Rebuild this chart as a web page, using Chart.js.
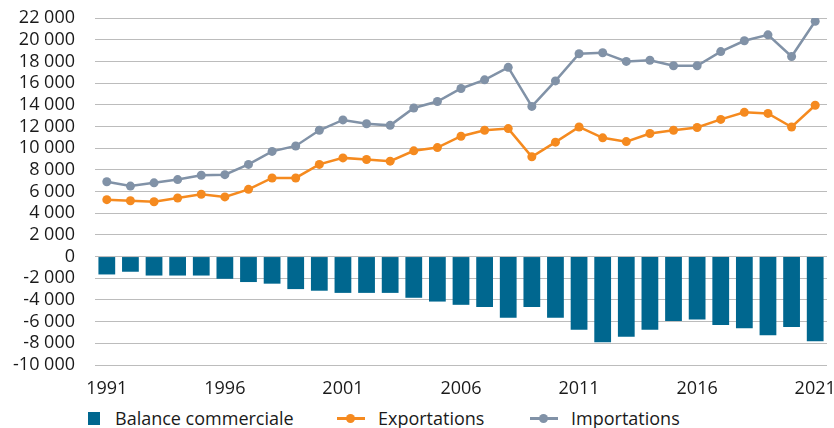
<!DOCTYPE html>
<html>
<head>
<meta charset="utf-8">
<script src="https://cdn.jsdelivr.net/npm/chart.js@4/dist/chart.umd.min.js"></script>
<style>
  html, body { margin: 0; padding: 0; background: #fff; }
  #wrap { position: relative; width: 834px; height: 428px; font-family: "Open Sans", sans-serif; }
  #box { position: absolute; left: 0; top: 0; width: 834px; height: 400px; }
  .leg { position: absolute; top: 406px; height: 24px; display: flex; align-items: center; font-size: 18px; color: #1a1a1a; white-space: nowrap; }
  .sq { width: 12px; height: 13px; margin-right: 15px; }
  .ln { position: relative; width: 28px; height: 3px; margin-right: 13px; }
  .ln i { position: absolute; left: 9px; top: -3px; width: 9px; height: 9px; border-radius: 50%; }
</style>
</head>
<body>
<div id="wrap">
  <div id="box"><canvas id="chart"></canvas></div>
  <div class="leg" style="left:88px"><span class="sq" style="background:#00678f"></span>Balance commerciale</div>
  <div class="leg" style="left:337px"><span class="ln" style="background:#f58a1f"><i style="background:#f58a1f"></i></span>Exportations</div>
  <div class="leg" style="left:530px"><span class="ln" style="background:#8192a7"><i style="background:#8192a7"></i></span>Importations</div>
</div>
<script>
// Commerce extérieur, 1991-2021

const years = [];
for (let y = 1991; y <= 2021; y++) years.push(String(y));

const balance = [
  -1650, -1400, -1750, -1750, -1750, -2050, -2350, -2500, -3000, -3150,
  -3350, -3350, -3350, -3800, -4150, -4450, -4650, -5650, -4650, -5650,
  -6750, -7900, -7400, -6750, -5950, -5800, -6300, -6600, -7250, -6500,
  -7800
];

const exportations = [
  5250, 5150, 5050, 5400, 5750, 5500, 6200, 7250, 7250, 8500,
  9100, 8950, 8800, 9750, 10050, 11100, 11650, 11800, 9200, 10550,
  11950, 10950, 10600, 11350, 11650, 11900, 12650, 13300, 13200, 11950,
  13950
];

const importations = [
  6900, 6500, 6800, 7100, 7500, 7550, 8500, 9700, 10200, 11650,
  12600, 12250, 12100, 13700, 14300, 15500, 16300, 17450, 13850, 16200,
  18700, 18800, 18000, 18100, 17600, 17600, 18900, 19900, 20450, 18450,
  21700
];

const shownYears = ['1991', '1996', '2001', '2006', '2011', '2016', '2021'];

const font = { family: '"Open Sans", sans-serif', size: 18 };

function fmt(v) {
  const s = Math.abs(v).toString().replace(/\B(?=(\d{3})+(?!\d))/g, ' ');
  return (v < 0 ? '-' : '') + s;
}

new Chart(document.getElementById('chart'), {
  data: {
    labels: years,
    datasets: [
      {
        type: 'line',
        label: 'Importations',
        data: importations,
        borderColor: '#8192a7',
        backgroundColor: '#8192a7',
        borderWidth: 2.5,
        pointRadius: 4.5,
        pointBorderWidth: 0,
        tension: 0
      },
      {
        type: 'line',
        label: 'Exportations',
        data: exportations,
        borderColor: '#f58a1f',
        backgroundColor: '#f58a1f',
        borderWidth: 2.5,
        pointRadius: 4.5,
        pointBorderWidth: 0,
        tension: 0
      },
      {
        type: 'bar',
        label: 'Balance commerciale',
        data: balance,
        backgroundColor: '#00678f',
        barPercentage: 0.71,
        categoryPercentage: 1
      }
    ]
  },
  options: {
    responsive: true,
    maintainAspectRatio: false,
    animation: false,
    layout: { padding: { top: 18, right: 7, left: 0, bottom: 0 } },
    plugins: {
      legend: { display: false },
      tooltip: { enabled: false }
    },
    scales: {
      x: {
        offset: true,
        grid: { display: false, drawTicks: false },
        border: { display: false },
        ticks: {
          color: '#1a1a1a',
          font: font,
          padding: 13,
          autoSkip: false,
          maxRotation: 0,
          callback: function(value) {
            const lab = this.getLabelForValue(value);
            return shownYears.includes(lab) ? lab : '';
          }
        },
        afterFit: s => { s.height = 35; s.paddingLeft = 0; s.paddingRight = 0; }
      },
      y: {
        min: -10000,
        max: 22000,
        grid: { color: '#bcbcbc', lineWidth: 1, drawTicks: false },
        border: { display: false },
        ticks: {
          stepSize: 2000,
          autoSkip: false,
          color: '#1a1a1a',
          font: font,
          padding: 20,
          callback: v => fmt(v)
        },
        afterFit: s => { s.width = 95; s.paddingTop = 0; s.paddingBottom = 0; }
      }
    }
  }
});
</script>
</body>
</html>
